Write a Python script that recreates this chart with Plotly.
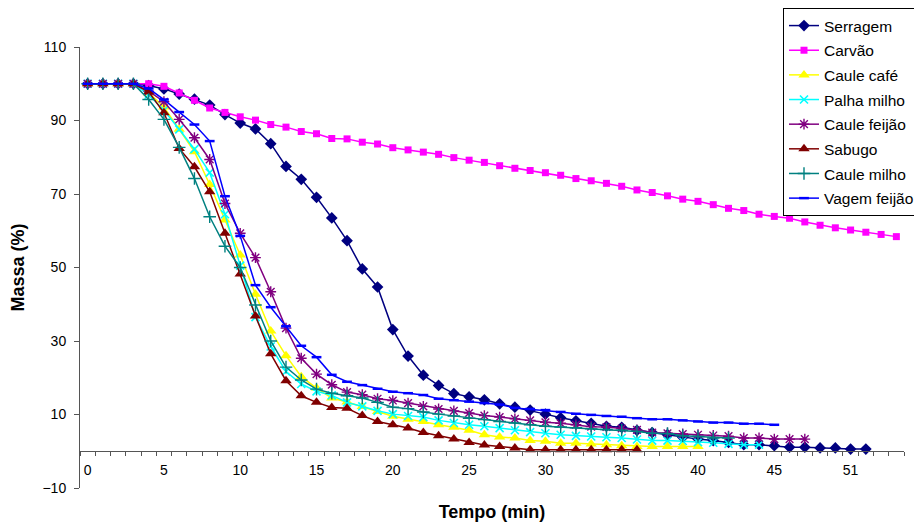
import plotly.graph_objects as go

# Category labels (time, min)
tempo = ["0", "1", "2", "3", "4", "5", "6", "7", "8", "9",
         "10", "11", "12", "13", "14", "15", "16", "17", "18", "19",
         "20", "21", "22", "23", "24", "25", "26", "27", "28", "29",
         "30", "31", "32", "33", "34", "35", "36", "37", "38", "39",
         "40", "41", "42", "43", "44", "45", "47", "48", "49", "50",
         "51", "52", "53", "54"]

serragem = [100, 100, 100, 100, 99.5, 98.6, 97.2, 95.8, 94.2, 91.6,
            89.3, 87.7, 83.7, 77.5, 74.0, 69.1, 63.5, 57.3, 49.6, 44.7,
            33.1, 25.9, 20.7, 17.9, 15.7, 14.8, 14.0, 12.9, 12.0, 11.2,
            10.1, 9.1, 8.3, 7.6, 6.8, 6.5, 5.7, 5.1, 4.5, 3.8,
            3.3, 2.9, 2.4, 1.8, 1.8, 1.5, 1.1, 1.1, 0.9, 0.9,
            0.6, 0.6]

carvao = [100, 100, 100, 100, 100, 99.3, 97.5, 95.5, 93.4, 92.2,
          91.0, 90.1, 88.9, 88.2, 87.0, 86.4, 85.1, 85.0, 84.1, 83.6,
          82.6, 82.0, 81.4, 80.8, 79.9, 79.2, 78.6, 77.7, 77.0, 76.4,
          75.8, 75.1, 74.2, 73.6, 72.9, 72.1, 71.1, 70.4, 69.5, 68.6,
          68.0, 67.1, 66.1, 65.5, 64.5, 63.9, 63.4, 62.4, 61.5, 60.8,
          60.2, 59.6, 59.0, 58.4]

caule_cafe = [100, 100, 100, 100, 97.5, 93.7, 87.6, 81.5, 72.6, 62.9,
              53.4, 42.7, 32.7, 26.0, 20.3, 17.2, 14.5, 13.4, 12.2, 10.8,
              9.5, 8.7, 8.1, 7.2, 6.5, 5.7, 4.5, 3.9, 3.6, 2.9,
              2.7, 2.2, 2.2, 2.0, 1.8, 1.5, 1.3, 1.3, 1.3, 1.3,
              1.3]

palha_milho = [100, 100, 100, 100, 97.0, 92.8, 87.6, 82.2, 75.8, 64.5,
               50.5, 36.5, 28.5, 21.7, 18.3, 16.3, 15.2, 13.3, 12.2, 11.0,
               10.1, 9.6, 9.3, 8.4, 7.7, 7.2, 6.8, 6.3, 5.7, 5.2,
               4.9, 4.5, 4.2, 4.0, 3.8, 3.6, 3.2, 2.9, 2.9, 2.8,
               2.5, 2.3, 2.0, 1.8, 1.8]

caule_feijao = [100, 100, 100, 100, 98.0, 95.1, 90.3, 85.3, 79.4, 67.4,
                59.3, 52.7, 43.4, 33.5, 25.3, 21.0, 18.1, 16.1, 15.4, 14.3,
                13.8, 13.1, 12.2, 11.5, 11.0, 10.4, 9.7, 9.3, 8.8, 8.4,
                7.9, 7.6, 7.2, 6.7, 6.6, 6.2, 5.8, 5.1, 4.9, 4.7,
                4.5, 4.3, 4.1, 3.6, 3.6, 3.3, 3.3, 3.3]

sabugo = [100, 100, 100, 100, 97.8, 92.1, 82.4, 77.4, 70.6, 59.3,
          48.2, 36.8, 26.5, 19.2, 15.1, 13.3, 11.9, 11.7, 9.7, 8.1,
          7.2, 6.3, 5.1, 4.2, 3.3, 2.4, 1.7, 1.3, 0.9, 0.4,
          0.4, 0.4, 0.4, 0.4, 0.4, 0.4, 0.4]

caule_milho = [100, 100, 100, 100, 95.7, 90.3, 82.7, 74.2, 63.8, 55.8,
               50.0, 39.8, 30.0, 22.9, 19.4, 16.9, 15.8, 15.1, 14.5, 13.3,
               12.0, 11.6, 10.7, 10.1, 9.6, 9.0, 8.6, 8.1, 7.7, 7.2,
               6.8, 6.6, 6.4, 6.1, 5.9, 5.7, 5.4, 4.9, 4.8, 4.2,
               4.0, 3.6, 3.6]

vagem_feijao = [100, 100, 100, 100, 98.7, 95.7, 92.3, 88.9, 84.4, 69.4,
                58.6, 45.2, 39.2, 34.0, 28.7, 25.6, 20.8, 18.9, 18.0, 17.0,
                16.2, 15.8, 15.3, 14.3, 13.9, 13.5, 13.1, 12.7, 11.8, 11.5,
                11.2, 10.7, 10.2, 9.9, 9.6, 9.4, 9.0, 8.7, 8.7, 8.4,
                8.1, 7.8, 7.8, 7.5, 7.5, 7.2]

series = [
    ("Serragem", serragem, "#000080", "diamond", 9, 0),
    ("Carvão", carvao, "#FF00FF", "square", 7, 0),
    ("Caule café", caule_cafe, "#FFFF00", "triangle-up", 10, 0),
    ("Palha milho", palha_milho, "#00FFFF", "x-thin-open", 8, 1.6),
    ("Caule feijão", caule_feijao, "#800080", "asterisk-open", 9, 1.4),
    ("Sabugo", sabugo, "#800000", "triangle-up", 10, 0),
    ("Caule milho", caule_milho, "#008080", "cross-thin-open", 9, 1.4),
    ("Vagem feijão", vagem_feijao, "#0000FF", "line-ew-open", 7, 2.5),
]

fig = go.Figure()
for i, (name, vals, color, sym, size, mlw) in enumerate(series):
    fig.add_trace(go.Scatter(
        x=tempo[:len(vals)], y=vals, name=name, mode="lines+markers",
        line=dict(color=color, width=1.5),
        marker=dict(symbol=sym, size=size, color=color,
                    line=dict(color=color, width=mlw)),
        legendgroup=str(i),
    ))

ticktext = [t if i % 5 == 0 else "" for i, t in enumerate(tempo)]

W, H = 922, 525
fig.update_layout(
    width=W, height=H,
    margin=dict(l=72, r=26, t=39, b=45, autoexpand=False),
    paper_bgcolor="white", plot_bgcolor="white",
    font=dict(family="Liberation Sans, Arial, sans-serif", size=14, color="black"),
    showlegend=True,
    legend=dict(
        xref="container", yref="container",
        x=775 / W, y=1.0, xanchor="left", yanchor="top",
        bordercolor="black", borderwidth=1, bgcolor="white",
        font=dict(size=15.5), tracegroupgap=1.5, traceorder="grouped",
        itemwidth=30,
    ),
    xaxis=dict(
        type="category", categoryorder="array", categoryarray=tempo,
        range=[-0.5, len(tempo) - 0.5],
        tickmode="array", tickvals=tempo, ticktext=ticktext, tickangle=0,
        tickson="boundaries", ticks="outside", ticklen=4, tickcolor="#555",
        showline=True, linecolor="#555", linewidth=1,
        showgrid=False, zeroline=False, automargin=False,
        anchor="free", position=10 / 120,
        tickfont=dict(size=14), ticklabelstandoff=6,
        title=dict(text="<b>Tempo (min)</b>", font=dict(size=18), standoff=28),
    ),
    yaxis=dict(
        range=[-10, 110], tick0=-10, dtick=20,
        ticks="outside", ticklen=5, tickcolor="#555",
        showline=True, linecolor="#555", linewidth=1,
        showgrid=False, zeroline=False, automargin=False,
        tickfont=dict(size=14), ticklabelstandoff=5,
        title=dict(text="<b>Massa (%)</b>", font=dict(size=18), standoff=16),
    ),
)

fig.write_html("out.html")
